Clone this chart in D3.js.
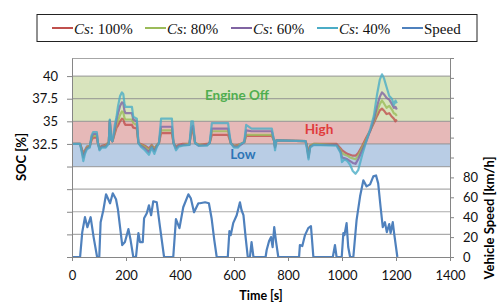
<!DOCTYPE html>
<html>
<head>
<meta charset="utf-8">
<script src="https://cdn.jsdelivr.net/npm/d3@7"></script>
<style>
  body { margin: 0; background: #fff; }
</style>
</head>
<body>
<div id="main"></div>
<script>
// time stamps of the SOC traces [s]
const socTime = [0, 30, 36, 42, 48, 55, 66, 72, 78, 92, 96, 102, 110, 125, 133, 136, 140, 145, 150, 158, 165, 170, 178, 185, 190, 194, 198, 222, 227, 240, 246, 255, 270, 285, 295, 305, 315, 322, 330, 370, 376, 385, 395, 410, 435, 442, 448, 456, 470, 500, 510, 518, 578, 588, 600, 615, 625, 638, 645, 665, 740, 748, 752, 757, 865, 870, 876, 882, 895, 980, 995, 1000, 1010, 1020, 1030, 1040, 1050, 1060, 1075, 1090, 1105, 1118, 1130, 1140, 1148, 1155, 1165, 1175, 1185, 1192, 1198, 1203];
const soc100 = [32.5, 32.5, 32.0, 31.4, 31.8, 32.2, 32.3, 32.9, 33.2, 33.2, 32.6, 32.1, 32.3, 32.4, 32.6, 32.5, 35.0, 33.0, 32.8, 33.6, 34.3, 34.5, 35.0, 35.3, 35.2, 34.8, 34.6, 34.6, 34.3, 34.2, 32.6, 32.5, 32.3, 32.0, 32.4, 32.0, 32.4, 32.6, 33.7, 33.7, 32.6, 32.2, 32.4, 32.5, 32.5, 33.8, 34.0, 32.6, 32.4, 32.5, 32.6, 33.5, 33.5, 32.6, 32.3, 32.4, 32.5, 32.7, 33.4, 33.4, 33.4, 32.9, 32.2, 32.9, 32.8, 32.4, 31.3, 32.3, 32.5, 32.5, 32.0, 31.8, 31.6, 31.4, 31.3, 31.2, 31.2, 31.5, 32.3, 33.2, 34.0, 34.8, 35.6, 36.2, 36.4, 36.2, 35.8, 35.9, 35.5, 35.3, 35.0, 35.2];
const soc80 = [32.5, 32.5, 31.9, 31.2, 31.7, 32.1, 32.3, 33.0, 33.4, 33.4, 32.6, 32.0, 32.2, 32.3, 32.6, 32.5, 35.0, 33.0, 32.8, 33.8, 34.7, 35.0, 35.7, 36.1, 36.0, 35.4, 35.2, 35.2, 34.8, 34.6, 32.6, 32.4, 32.2, 31.8, 32.3, 31.9, 32.4, 32.6, 34.0, 34.0, 32.6, 32.1, 32.3, 32.4, 32.5, 34.0, 34.2, 32.6, 32.4, 32.4, 32.6, 33.9, 33.9, 32.6, 32.3, 32.3, 32.5, 32.7, 33.5, 33.5, 33.5, 32.9, 32.2, 32.9, 32.8, 32.3, 31.2, 32.3, 32.5, 32.4, 31.8, 31.5, 31.3, 31.2, 31.0, 30.9, 30.8, 31.2, 32.1, 33.0, 34.0, 35.0, 36.1, 36.9, 37.3, 37.0, 36.5, 36.7, 36.3, 35.9, 35.8, 35.6];
const soc60 = [32.5, 32.5, 31.8, 31.0, 31.6, 32.0, 32.2, 33.2, 33.6, 33.6, 32.6, 31.9, 32.2, 32.2, 32.5, 32.5, 35.1, 33.0, 32.8, 34.0, 35.2, 35.8, 36.7, 37.1, 37.0, 36.2, 35.9, 35.9, 35.2, 35.0, 32.6, 32.3, 32.0, 31.6, 32.2, 31.7, 32.3, 32.6, 34.4, 34.4, 32.6, 32.0, 32.3, 32.4, 32.4, 34.3, 34.5, 32.6, 32.3, 32.4, 32.6, 34.2, 34.2, 32.6, 32.2, 32.2, 32.4, 32.7, 34.0, 33.9, 33.9, 32.9, 32.1, 32.9, 32.8, 32.2, 31.0, 32.2, 32.4, 32.4, 31.6, 31.0, 30.9, 30.8, 30.6, 30.4, 30.3, 30.8, 31.8, 32.8, 34.0, 35.2, 36.7, 37.7, 38.2, 38.0, 37.6, 37.4, 36.9, 36.5, 36.6, 36.3];
const soc40 = [32.5, 32.5, 31.6, 30.6, 31.4, 31.9, 32.1, 33.4, 33.8, 33.8, 32.6, 31.8, 32.1, 32.1, 32.4, 32.5, 35.2, 33.0, 32.8, 34.5, 35.5, 36.6, 37.8, 38.2, 38.0, 37.0, 36.6, 36.6, 35.5, 35.3, 32.6, 32.2, 31.8, 31.3, 32.1, 31.4, 32.2, 32.6, 35.3, 35.3, 32.6, 31.8, 32.2, 32.3, 32.4, 35.0, 35.0, 32.6, 32.3, 32.3, 32.6, 34.8, 34.8, 32.6, 32.1, 32.1, 32.5, 32.7, 34.6, 34.2, 34.2, 32.9, 31.8, 32.9, 32.8, 32.0, 30.8, 32.1, 32.4, 32.3, 31.5, 30.5, 30.8, 30.6, 30.2, 29.5, 29.2, 29.6, 31.3, 32.8, 34.2, 35.6, 38.0, 39.6, 40.2, 39.8, 38.8, 37.8, 37.5, 36.8, 37.3, 37.0];

// vehicle speed trace
const speedTime = [0, 30, 38, 48, 57, 69, 80, 93, 101, 106, 116, 126, 141, 151, 163, 170, 178, 186, 196, 209, 217, 227, 237, 246, 252, 262, 267, 277, 285, 293, 301, 314, 326, 341, 375, 385, 398, 412, 431, 440, 452, 468, 474, 493, 507, 517, 527, 536, 577, 583, 588, 597, 610, 622, 628, 635, 643, 651, 659, 665, 672, 717, 721, 730, 737, 743, 749, 756, 764, 841, 844, 853, 863, 875, 885, 894, 966, 974, 980, 999, 1005, 1009, 1017, 1023, 1030, 1042, 1054, 1067, 1079, 1091, 1104, 1116, 1126, 1134, 1143, 1151, 1159, 1166, 1175, 1180, 1188, 1193, 1205];
const speedVal = [0, 0, 25, 40, 30, 40, 20, 0, 0, 35, 47, 63, 54, 64, 58, 48, 30, 12, 15, 28, 17, 0, 0, 24, 15, 15, 39, 44, 52, 42, 56, 55, 30, 0, 0, 38, 29, 50, 63, 59, 45, 54, 54, 55, 54, 39, 17, 0, 0, 26, 22, 34, 42, 55, 47, 42, 20, 0, 0, 15, 0, 0, 7, 16, 20, 10, 30, 15, 0, 0, 12, 11, 22, 29, 31, 0, 0, 12, 0, 0, 24, 22, 34, 10, 0, 0, 37, 61, 77, 71, 73, 81, 82, 74, 50, 30, 35, 25, 33, 24, 35, 24, 0];

const seriesNames = ["100%", "80%", "60%", "40%"];
const seriesColors = ["#c0504d", "#9bbb59", "#8064a2", "#4bacc6"];
const speedColor = "#4f81bd";

const xTicks = [0, 200, 400, 600, 800, 1000, 1200, 1400];
const socTicks = [20, 22.5, 25, 27.5, 30, 32.5, 35, 37.5, 40];
const speedTicks = [0, 20, 40, 60, 80, 100, 120, 140, 160, 180, 200];

// SOC bands and their labels
const bands = [
  {lo: 35, hi: 40, fill: "#d8e4bd", label: "Engine Off", color: "#4fae4f", t: 611, dy: 1.5},
  {lo: 32.5, hi: 35, fill: "#e6b9b8", label: "High", color: "#e03c3c", t: 915, dy: 1.2},
  {lo: 30, hi: 32.5, fill: "#b9cde5", label: "Low", color: "#2e75b6", t: 633, dy: 4.2}
];

const sans = "Lato, 'Open Sans', sans-serif";

function createChart(svg) {
  const left = 72, right = 450, top = 58, bottom = 257;

  const x = d3.scaleLinear().domain([0, 1400]).range([left, right]);
  const ySoc = d3.scaleLinear().domain([20, 42]).range([bottom, top]);
  const ySpeed = d3.scaleLinear().domain([0, 200]).range([bottom, top]);

  // colour bands
  svg.selectAll("rect.band")
    .data(bands)
    .enter().append("rect")
    .attr("class", "band")
    .attr("x", left)
    .attr("width", right - left)
    .attr("y", d => ySoc(d.hi))
    .attr("height", d => ySoc(d.lo) - ySoc(d.hi))
    .attr("fill", d => d.fill);

  // gridlines
  svg.selectAll("line.grid")
    .data(socTicks.filter(d => d > 20))
    .enter().append("line")
    .attr("x1", left).attr("x2", right)
    .attr("y1", d => ySoc(d)).attr("y2", d => ySoc(d))
    .attr("stroke", "#8f8f8f")
    .attr("stroke-opacity", 0.75)
    .attr("stroke-width", 1.2);

  // top border
  svg.append("line")
    .attr("x1", left).attr("x2", right)
    .attr("y1", top + 0.5).attr("y2", top + 0.5)
    .attr("stroke", "#a6a6a6");

  // band labels
  svg.selectAll("text.band")
    .data(bands)
    .enter().append("text")
    .attr("x", d => x(d.t))
    .attr("y", d => ySoc((d.lo + d.hi) / 2) + d.dy)
    .attr("text-anchor", "middle")
    .attr("font-family", sans)
    .attr("font-size", 13.5)
    .attr("font-weight", "bold")
    .attr("fill", d => d.color)
    .text(d => d.label);

  // SOC traces
  const socLine = d3.line()
    .x((d, i) => x(socTime[i]))
    .y(d => ySoc(d));
  [soc100, soc80, soc60, soc40].forEach((vals, k) => {
    svg.append("path")
      .attr("d", socLine(vals))
      .attr("fill", "none")
      .attr("stroke", seriesColors[k])
      .attr("stroke-width", 2.2)
      .attr("stroke-opacity", 0.8)
      .attr("stroke-linejoin", "round");
  });

  // speed trace
  const speedLine = d3.line()
    .x((d, i) => x(speedTime[i]))
    .y(d => ySpeed(d));
  svg.append("path")
    .attr("d", speedLine(speedVal))
    .attr("fill", "none")
    .attr("stroke", speedColor)
    .attr("stroke-width", 2.2)
    .attr("stroke-linejoin", "round");

  // axes
  const styleAxis = g => {
    g.attr("font-family", sans).attr("font-size", 13);
    g.selectAll("path.domain").attr("stroke", "#868686");
    g.selectAll(".tick line").attr("stroke", "#868686");
    g.selectAll("text").attr("fill", "#111");
  };

  svg.append("g")
    .attr("transform", `translate(0,${bottom})`)
    .call(d3.axisBottom(x).tickValues(xTicks).tickSize(4).tickSizeOuter(0).tickPadding(10)
      .tickFormat(d3.format("d")))
    .call(styleAxis);

  svg.append("g")
    .attr("transform", `translate(${left},0)`)
    .call(d3.axisLeft(ySoc).tickValues(socTicks).tickSize(5).tickSizeOuter(0).tickPadding(9)
      .tickFormat(d => d >= 32.5 ? d : ""))
    .call(styleAxis);

  svg.append("g")
    .attr("transform", `translate(${right},0)`)
    .call(d3.axisRight(ySpeed).tickValues(speedTicks).tickSize(4).tickSizeOuter(0).tickPadding(9)
      .tickFormat(d => d <= 80 ? d : ""))
    .call(styleAxis);

  // axis titles
  svg.append("text")
    .attr("x", (left + right) / 2).attr("y", 300)
    .attr("text-anchor", "middle")
    .attr("font-family", sans)
    .attr("font-size", 12.5).attr("font-weight", "bold")
    .text("Time [s]");

  svg.append("text")
    .attr("transform", "translate(26,157) rotate(-90)")
    .attr("text-anchor", "middle")
    .attr("font-family", sans)
    .attr("font-size", 13).attr("font-weight", "bold")
    .text("SOC  [%]");

  svg.append("text")
    .attr("transform", "translate(494,218) rotate(-90)")
    .attr("text-anchor", "middle")
    .attr("font-family", sans)
    .attr("font-size", 13).attr("font-weight", "bold")
    .text("Vehicle  Speed [km/h]");
}

function createLegend(svg) {
  svg.append("rect")
    .attr("x", 37).attr("y", 14.5)
    .attr("width", 440).attr("height", 27)
    .attr("fill", "#fff")
    .attr("stroke", "#222");

  const items = seriesNames.map((n, i) => ({name: n, color: seriesColors[i], cs: true}))
    .concat([{name: "Speed", color: speedColor, cs: false}]);
  const itemX = [52, 145, 231, 317, 402];

  const g = svg.selectAll("g.leg")
    .data(items)
    .enter().append("g")
    .attr("transform", (d, i) => `translate(${itemX[i]},0)`);

  g.append("line")
    .attr("x1", 0).attr("x2", 21)
    .attr("y1", 28).attr("y2", 28)
    .attr("stroke", d => d.color)
    .attr("stroke-width", 2);

  const t = g.append("text")
    .attr("x", 22).attr("y", 33.5)
    .attr("font-family", "'Liberation Serif', 'Times New Roman', serif")
    .attr("font-size", 15)
    .attr("fill", "#111");
  t.filter(d => d.cs).append("tspan").attr("font-style", "italic").text("Cs");
  t.append("tspan").text(d => d.cs ? ": " + d.name : d.name);
}

function createViz() {
  const svg = d3.select("#main").append("svg")
    .attr("width", 497)
    .attr("height", 304);
  createChart(svg);
  createLegend(svg);
}

createViz();
</script>
</body>
</html>
